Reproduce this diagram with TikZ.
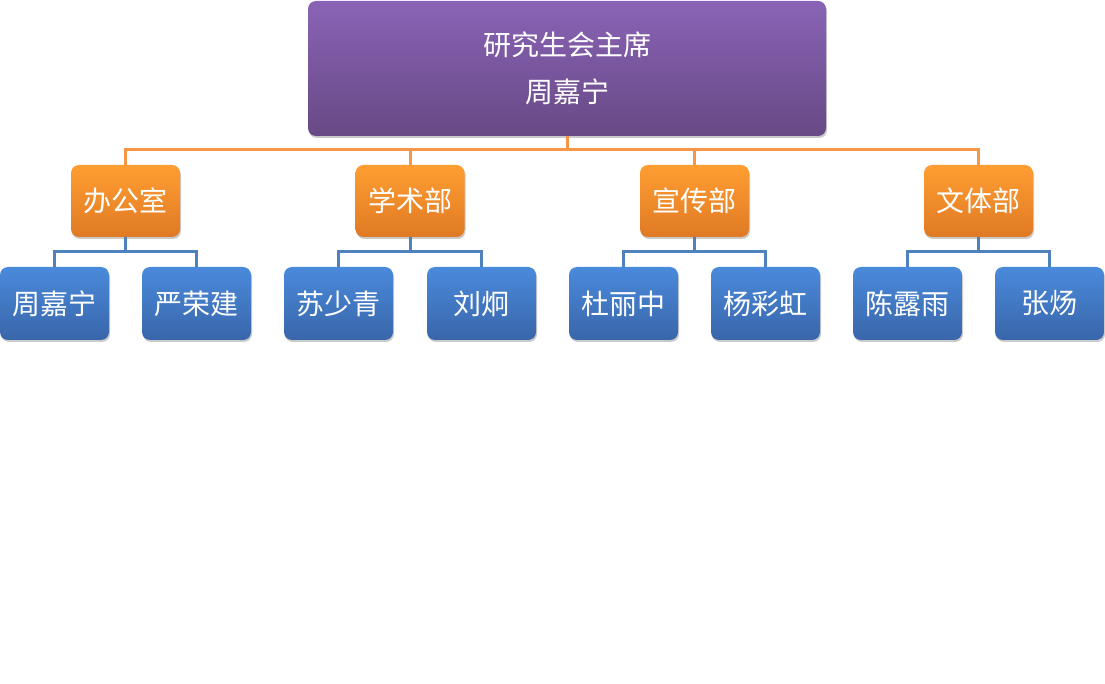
\documentclass[tikz,border=0pt]{standalone}
\usepackage{fontspec}
\setmainfont{Noto Sans CJK SC}
\usetikzlibrary{shadows}
\definecolor{purpT}{HTML}{8A63B6}
\definecolor{purpB}{HTML}{684985}
\definecolor{oraT}{HTML}{FF9E32}
\definecolor{oraB}{HTML}{DF7A24}
\definecolor{bluT}{HTML}{4A8ADB}
\definecolor{bluB}{HTML}{3966AA}
\definecolor{oline}{HTML}{F79646}
\definecolor{bline}{HTML}{4F81BD}
\tikzset{
  boxbase/.style={rectangle, rounded corners=8pt, text=white, inner sep=0pt,
    font=\fontsize{28}{34}\selectfont,
    drop shadow={shadow xshift=1pt, shadow yshift=-2pt, opacity=0.35, fill=black!60}},
  topbox/.style={boxbase, top color=purpT, bottom color=purpB, minimum width=518pt, minimum height=135pt, align=center},
  depbox/.style={boxbase, top color=oraT, bottom color=oraB, minimum width=109pt, minimum height=72pt},
  perbox/.style={boxbase, top color=bluT, bottom color=bluB, minimum width=109pt, minimum height=73pt},
  orangeline/.style={draw=oline, line width=3pt},
  blueline/.style={draw=bline, line width=3pt},
}
\begin{document}
\begin{tikzpicture}[x=1pt,y=-1pt]
\useasboundingbox (0,0) rectangle (1105,684);
\node[topbox] (top) at (567,68.5) {研究生会主席\\[13pt]周嘉宁};
\node[depbox] (o1) at (125.5,201) {办公室};
\node[depbox] (o2) at (410,201) {学术部};
\node[depbox] (o3) at (694.5,201) {宣传部};
\node[depbox] (o4) at (978.5,201) {文体部};
\node[perbox] (c11) at (54.5,303.5) {周嘉宁};
\node[perbox] (c12) at (196.5,303.5) {严荣建};
\node[perbox] (c21) at (338.5,303.5) {苏少青};
\node[perbox] (c22) at (481.5,303.5) {刘炯};
\node[perbox] (c31) at (623.5,303.5) {杜丽中};
\node[perbox] (c32) at (765.5,303.5) {杨彩虹};
\node[perbox] (c41) at (907.5,303.5) {陈露雨};
\node[perbox] (c42) at (1049.5,303.5) {张炀};
\coordinate (bus) at (567,150);
\draw[orangeline] (top.south) -- (bus);
\draw[orangeline] (bus) -| (o1.north);
\draw[orangeline] (bus) -| (o2.north);
\draw[orangeline] (bus) -| (o3.north);
\draw[orangeline] (bus) -| (o4.north);
\coordinate (b1) at (125.5,252);
\coordinate (b2) at (410,252);
\coordinate (b3) at (694.5,252);
\coordinate (b4) at (978.5,252);
\draw[blueline] (o1.south) -- (b1); \draw[blueline] (b1) -| (c11.north); \draw[blueline] (b1) -| (c12.north);
\draw[blueline] (o2.south) -- (b2); \draw[blueline] (b2) -| (c21.north); \draw[blueline] (b2) -| (c22.north);
\draw[blueline] (o3.south) -- (b3); \draw[blueline] (b3) -| (c31.north); \draw[blueline] (b3) -| (c32.north);
\draw[blueline] (o4.south) -- (b4); \draw[blueline] (b4) -| (c41.north); \draw[blueline] (b4) -| (c42.north);
\end{tikzpicture}
\end{document}
